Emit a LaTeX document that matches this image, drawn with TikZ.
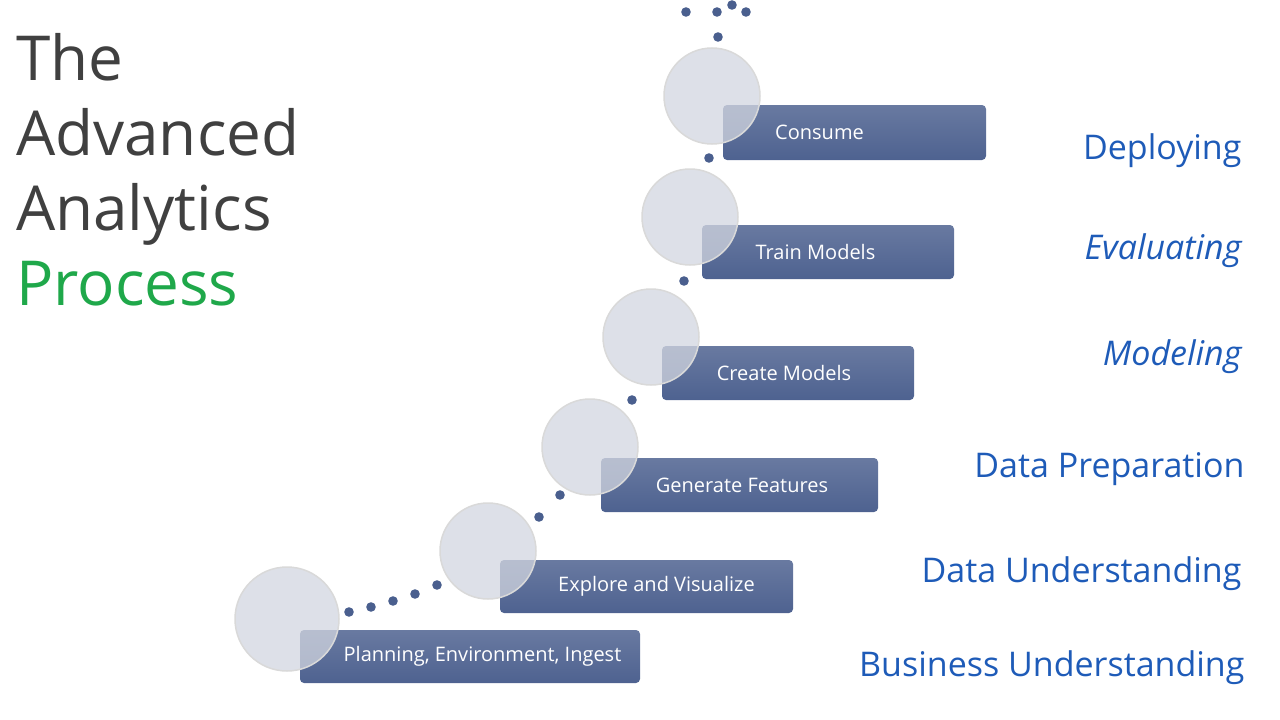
\documentclass[tikz,border=0pt]{standalone}
\usepackage{fontspec}
\setmainfont{Open Sans}
\begin{document}
\begin{tikzpicture}[x=1pt,y=-1pt,
  box/.style={draw=none,rounded corners=4pt,top color=box1!85!white,bottom color=box1,text=white,font=\fontsize{20}{24}\selectfont,inner sep=0pt},
  ball/.style={circle,draw=gray!30,line width=1.5pt,fill=ballc,fill opacity=0.75,inner sep=0pt},
  dot/.style={fill=dotc},
  lab/.style={text=labc,font=\fontsize{34}{40}\selectfont,anchor=east}]
\definecolor{box1}{HTML}{4E6290}
\definecolor{ballc}{HTML}{D2D6E0}
\definecolor{dotc}{HTML}{4A5F8E}
\definecolor{labc}{HTML}{1E5BB8}
\definecolor{titc}{HTML}{404040}
\definecolor{grn}{HTML}{1FA84A}
\useasboundingbox (0,0) rectangle (1280,720);
% title
\node[anchor=base west,text=titc,font=\fontsize{62}{62}\selectfont,inner sep=0pt] (t1) at (16,80) {The};
\node[anchor=base west,text=titc,font=\fontsize{62}{62}\selectfont,inner sep=0pt] (t2) at (16,155) {Advanced};
\node[anchor=base west,text=titc,font=\fontsize{62}{62}\selectfont,inner sep=0pt] (t3) at (16,230) {Analytics};
\node[anchor=base west,text=grn,font=\fontsize{62}{62}\selectfont,inner sep=0pt] (t4) at (16,305) {Process};
% boxes
\node[box,minimum width=340pt,minimum height=53pt] (b1) at (470,656.5) {\hspace*{25pt}Planning, Environment, Ingest};
\node[box,minimum width=293pt,minimum height=53pt] (b2) at (646.5,586.5) {\hspace*{20pt}Explore and Visualize};
\node[box,minimum width=277pt,minimum height=54pt] (b3) at (739.5,485) {\hspace*{5pt}Generate Features};
\node[box,minimum width=252pt,minimum height=54pt] (b4) at (788,373) {\hspace*{-8pt}Create Models};
\node[box,minimum width=252pt,minimum height=54pt] (b5) at (828,252) {\hspace*{-25pt}Train Models};
\node[box,minimum width=263pt,minimum height=55pt] (b6) at (854.5,132.5) {\hspace*{-70pt}Consume};
% balls
\node[ball,minimum size=104pt] (c1) at (287,619) {};
\node[ball,minimum size=96pt] (c2) at (488,551) {};
\node[ball,minimum size=96pt] (c3) at (590,447) {};
\node[ball,minimum size=96pt] (c4) at (651,337) {};
\node[ball,minimum size=96pt] (c5) at (690,217) {};
\node[ball,minimum size=96pt] (c6) at (712,96) {};
% dots
\foreach \p in {(349,612),(371,607),(393,601),(415,594),(437,585),(539,517),(560,495),(632,400),(684,281),(709,158),(718,37),(686,12),(717,12),(732,5),(746,12)}
  \fill[dot] \p circle (4.8pt);
% labels
\node[lab] (l6) at (1245,151) {Deploying};
\node[lab,font=\fontsize{34}{40}\selectfont\itshape] (l5) at (1245,251) {Evaluating};
\node[lab,font=\fontsize{34}{40}\selectfont\itshape] (l4) at (1245,357) {Modeling};
\node[lab] (l3) at (1248,469) {Data Preparation};
\node[lab] (l2) at (1245,574) {Data Understanding};
\node[lab] (l1) at (1248,668) {Business Understanding};
\end{tikzpicture}
\end{document}
